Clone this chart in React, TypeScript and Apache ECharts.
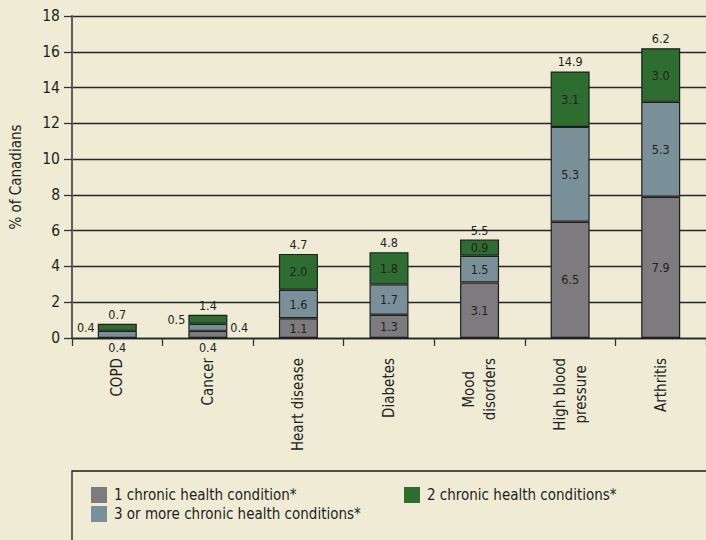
import React, { useEffect, useRef } from "react";
import * as echarts from "echarts";

// Share of Canadians reporting each chronic condition, split by how many
// chronic health conditions they have in total.
const categories = [
  "COPD",
  "Cancer",
  "Heart disease",
  "Diabetes",
  "Mood\ndisorders",
  "High blood\npressure",
  "Arthritis",
];
const oneCondition: (number | null)[] = [null, 0.4, 1.1, 1.3, 3.1, 6.5, 7.9];
const threeOrMore: number[] = [0.4, 0.4, 1.6, 1.7, 1.5, 5.3, 5.3];
const twoConditions: number[] = [0.4, 0.5, 2.0, 1.8, 0.9, 3.1, 3.0];
const totalLabels: string[] = ["0.7", "1.4", "4.7", "4.8", "5.5", "14.9", "6.2"];
const yTicks = { min: 0, max: 18, interval: 2 };

const seriesNames = [
  "1 chronic health condition*",
  "3 or more chronic health conditions*",
  "2 chronic health conditions*",
];

const FONT = "'Liberation Sans Narrow', 'DejaVu Sans Condensed', 'Noto Sans', sans-serif";
const BG = "#efebd5";
const INK = "#231f20";
const GRAY = "#7d7b7d";
const BLUE = "#7a9098";
const GREEN = "#2e6d30";

// Small bars carry their value labels outside the segment.
const labelOverrides: Record<string, Record<number, { position: string; distance: number }>> = {
  one: { 1: { position: "bottom", distance: 3 } },
  three: { 0: { position: "bottom", distance: 3 }, 1: { position: "right", distance: 3 } },
  two: { 0: { position: "left", distance: 3 }, 1: { position: "left", distance: 3 } },
};

function toItems(values: (number | null)[], key: string) {
  return values.map((v, i) => {
    const o = labelOverrides[key][i];
    if (v === null) return "-";
    return o ? { value: v, label: { position: o.position, distance: o.distance } } : v;
  });
}

const valueLabel = {
  show: true,
  position: "inside",
  color: INK,
  fontFamily: FONT,
  fontSize: 12.5,
  formatter: (p: any) => Number(p.value).toFixed(1),
};

export default function App() {
  const ref = useRef<HTMLDivElement>(null);

  useEffect(() => {
    if (!ref.current) return;
    const chart = echarts.init(ref.current, undefined, { renderer: "svg" });

    const barBase = {
      type: "bar",
      stack: "conditions",
      barWidth: 39,
      label: valueLabel,
      emphasis: { disabled: true },
    };

    const legendCommon = {
      orient: "horizontal",
      padding: 0,
      itemWidth: 16,
      itemHeight: 16,
      icon: "rect",
      itemStyle: { borderWidth: 0 },
      textStyle: { fontFamily: FONT, fontSize: 15, color: INK, padding: [0, 0, 0, 2] },
      selectedMode: false,
    };

    chart.setOption({
      animation: false,
      backgroundColor: BG,
      textStyle: { fontFamily: FONT },
      grid: { left: 72, right: -3, top: 16, bottom: 202, containLabel: false },
      legend: [
        { ...legendCommon, data: [seriesNames[0]], left: 91, top: 487 },
        { ...legendCommon, data: [seriesNames[2]], left: 404, top: 487 },
        { ...legendCommon, data: [seriesNames[1]], left: 91, top: 506 },
      ],
      xAxis: {
        type: "category",
        data: categories,
        boundaryGap: true,
        axisLine: { show: true, lineStyle: { color: "#222", width: 1.3 } },
        axisTick: { show: true, length: 8, lineStyle: { color: "#333", width: 1.3 } },
        axisLabel: {
          rotate: 90,
          margin: 20,
          interval: 0,
          color: INK,
          fontFamily: FONT,
          fontSize: 15,
          formatter: (v: string) =>
            v
              .split("\n")
              .map((line) => `{c|${line}}`)
              .join("\n"),
          rich: {
            c: { align: "center", fontFamily: FONT, fontSize: 15, color: INK, lineHeight: 21 },
          },
        },
      },
      yAxis: {
        type: "value",
        min: yTicks.min,
        max: yTicks.max,
        interval: yTicks.interval,
        name: "% of Canadians",
        nameLocation: "middle",
        nameRotate: 90,
        nameGap: 49,
        nameTextStyle: { fontFamily: FONT, fontSize: 15, color: INK },
        axisLine: { show: true, lineStyle: { color: "#5e5e5e", width: 2 } },
        axisTick: { show: true, length: 8, lineStyle: { color: "#333", width: 1.3 } },
        axisLabel: { margin: 12, color: INK, fontFamily: FONT, fontSize: 15.5 },
        splitLine: { show: true, lineStyle: { color: "#262626", width: 1.3 } },
      },
      series: [
        {
          ...barBase,
          name: seriesNames[0],
          data: toItems(oneCondition, "one"),
          itemStyle: { color: GRAY, borderColor: "#1e1e1e", borderWidth: 1.2 },
        },
        {
          ...barBase,
          name: seriesNames[1],
          data: toItems(threeOrMore, "three"),
          itemStyle: { color: BLUE, borderColor: "#1e1e1e", borderWidth: 1.2 },
        },
        {
          ...barBase,
          name: seriesNames[2],
          data: toItems(twoConditions, "two"),
          itemStyle: { color: GREEN, borderColor: "#1e1e1e", borderWidth: 1.2 },
        },
        {
          type: "bar",
          name: "total",
          stack: "conditions",
          barWidth: 39,
          silent: true,
          data: totalLabels.map(() => 0),
          itemStyle: { color: "transparent", borderWidth: 0 },
          label: {
            show: true,
            position: "top",
            distance: 3,
            color: INK,
            fontFamily: FONT,
            fontSize: 12.5,
            formatter: (p: any) => totalLabels[p.dataIndex],
          },
        },
      ],
      graphic: [
        {
          type: "rect",
          z: -1,
          shape: { x: 72, y: 471, width: 700, height: 120 },
          style: { fill: "none", stroke: "#1a1a1a", lineWidth: 1.3 },
        },
      ],
    });

    return () => chart.dispose();
  }, []);

  return (
    <div
      style={{
        position: "fixed",
        left: 0,
        top: 0,
        width: 706,
        height: 540,
        overflow: "hidden",
        background: BG,
      }}
    >
      <div ref={ref} style={{ width: 706, height: 540 }} />
    </div>
  );
}
